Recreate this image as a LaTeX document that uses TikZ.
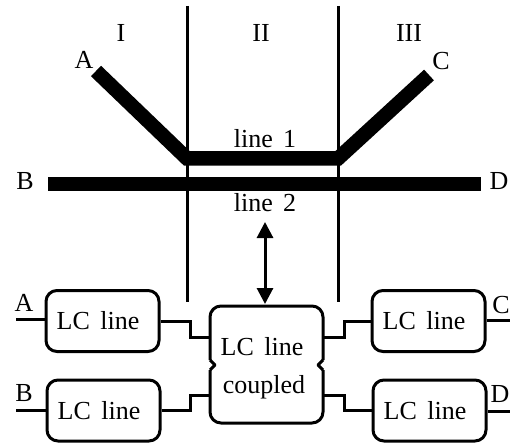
\documentclass[tikz,border=0pt]{standalone}
\usepackage{fontspec}
\setmainfont[WordSpace=1.6]{Liberation Serif}
\usetikzlibrary{arrows.meta}
\newcommand{\lctext}{LC line\kern9pt\relax}
\tikzset{
  lbl/.style={inner sep=0pt,font=\fontsize{26}{26}\selectfont},
  lcbox/.style={draw,line width=3pt,rounded corners=11pt,minimum width=113pt,minimum height=61pt,inner sep=0pt,font=\fontsize{26}{26}\selectfont},
  wire/.style={line width=3pt},
  strip/.style={line width=14.5pt}
}
\begin{document}
\begin{tikzpicture}[x=1pt,y=-1pt]
  \useasboundingbox (0,0) rectangle (510,443);
  % upper part
  \coordinate (sA) at (96,71);
  \coordinate (kA) at (187,158.5);
  \coordinate (kC) at (338,158.5);
  \coordinate (sC) at (429,75);
  \coordinate (sB) at (48,184);
  \coordinate (sD) at (481,184);
  \coordinate (r1t) at (187,6);
  \coordinate (r1b) at (187,302);
  \coordinate (r2t) at (338,6);
  \coordinate (r2b) at (338,302);
  \draw[wire] (r1t) -- (r1b);
  \draw[wire] (r2t) -- (r2b);
  \draw[strip,line join=miter] (sA) -- (kA) -- (kC) -- (sC);
  \draw[strip] (sB) -- (sD);
  \node[lbl] (reg1) at (121,33) {I};
  \node[lbl] (reg2) at (261,33) {II};
  \node[lbl] (reg3) at (409,33) {III};
  \node[lbl] (endA) at (84,60) {A};
  \node[lbl] (endC) at (441,61) {C};
  \node[lbl] (endB) at (25,181) {B};
  \node[lbl] (endD) at (499,181) {D};
  \node[lbl] (line1) at (265,139) {line 1};
  \node[lbl] (line2) at (265,203) {line 2};
  % lower part
  \node[lcbox] (lcA) at (102.5,321) {\lctext};
  \node[lcbox] (lcB) at (103.5,410.5) {\lctext};
  \node[lcbox] (lcC) at (428.5,321) {\lctext};
  \node[lcbox] (lcD) at (429.5,410.5) {\lctext};
  \node[lbl] (cpl1) at (262,347) {LC line};
  \node[lbl,anchor=base] (cpl2) at (264,393) {coupled};
  \draw[wire,rounded corners=11pt]
    (210,360) -- (210,306) -- (323,306) -- (323,360);
  \draw[wire,rounded corners=11pt]
    (210,370) -- (210,423) -- (323,423) -- (323,370);
  \draw[wire,line join=round] (210,360) -- (215,365) -- (210,370);
  \draw[wire,line join=round] (323,360) -- (318,365) -- (323,370);
  \coordinate (cplA) at (210,337);
  \coordinate (cplB) at (210,395);
  \coordinate (cplC) at (323,337);
  \coordinate (cplD) at (323,395);
  \coordinate (top) at (265,222);
  \coordinate (bot) at (265,304);
  \draw[wire,{Triangle[length=16pt,width=16pt]}-{Triangle[length=16pt,width=16pt]}] (top) -- (bot);
  \coordinate (inA) at (16,319);
  \coordinate (inB) at (16,410.5);
  \coordinate (outC) at (510,320);
  \coordinate (outD) at (510,411);
  \draw[wire] (inA) -- (lcA.west |- inA);
  \draw[wire] (inB) -- (lcB.west |- inB);
  \draw[wire] (outC) -- (lcC.east |- outC);
  \draw[wire] (outD) -- (lcD.east |- outD);
  \draw[wire] (lcA.east) -- (190,321) -- (190,337) -- (cplA);
  \draw[wire] (lcB.east) -- (190,410.5) -- (190,395) -- (cplB);
  \draw[wire] (cplC) -- (344,337) -- (344,321) -- (lcC.west);
  \draw[wire] (cplD) -- (344,395) -- (344,410.5) -- (lcD.west);
  \node[lbl] (portA) at (24,303) {A};
  \node[lbl] (portB) at (24,393) {B};
  \node[lbl] (portC) at (501,305) {C};
  \node[lbl] (portD) at (500,394) {D};
\end{tikzpicture}
\end{document}
